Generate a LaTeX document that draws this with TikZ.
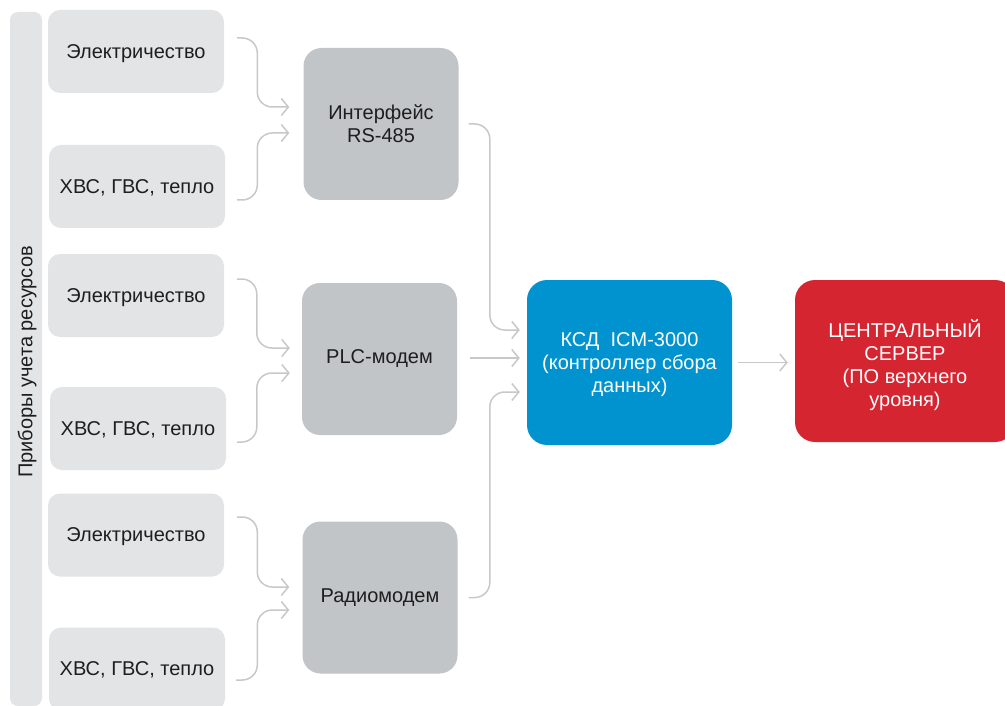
\documentclass[tikz,border=0pt]{standalone}
\usepackage{fontspec}
\setmainfont{Liberation Sans}
\usetikzlibrary{arrows.meta,calc}
\definecolor{lgray}{HTML}{E3E4E5}
\definecolor{mgray}{HTML}{C1C5C7}
\definecolor{kblue}{HTML}{0093D0}
\definecolor{kred}{HTML}{D42530}
\definecolor{cline}{HTML}{C8C8C8}
\definecolor{tdark}{HTML}{1E1E1E}
\tikzset{
  base/.style={rectangle, inner sep=0pt, align=center, font=\fontsize{20}{23}\selectfont},
  lbox/.style={base, fill=lgray, rounded corners=12pt, minimum width=176pt, minimum height=83pt, text=tdark, text depth=0pt},
  mbox/.style={base, fill=mgray, rounded corners=18pt, minimum width=155pt, minimum height=152pt, text=tdark},
  conn/.style={draw=cline, line width=1.5pt, rounded corners=15pt, -{Straight Barb[length=7pt,width=17pt,line width=1.5pt]}},
}
\begin{document}
\begin{tikzpicture}[x=1pt,y=-1pt]
\useasboundingbox (0,0) rectangle (1005,706);
\clip (0,0) rectangle (1005,706);
\fill[white] (0,0) rectangle (1005,706);
% left bar
\fill[lgray, rounded corners=8pt] (10,12) rectangle (42,706);
\node[base, rotate=90, text=tdark] (bar) at (27,362) {Приборы учета ресурсов};
% left boxes
\node[lbox] (L1) at (136,51.5) {Электричество};
\node[lbox] (L2) at (137,186.5) {ХВС, ГВС, тепло};
\node[lbox] (L3) at (136,295.5) {Электричество};
\node[lbox] (L4) at (138,428.5) {ХВС, ГВС, тепло};
\node[lbox] (L5) at (136,535) {Электричество};
\node[lbox] (L6) at (137,669) {ХВС, ГВС, тепло};
% middle boxes
\node[mbox] (M1) at (381,124) {Интерфейс\\RS-485};
\node[mbox] (M2) at (379.5,359) {PLC-модем};
\node[mbox] (M3) at (380,597.5) {Радиомодем};
% controller and server
\node[base, fill=kblue, rounded corners=20pt, minimum width=205pt, minimum height=165pt] (K) at (629.5,362.5) {};
\node[base, text=white] (Kt) at (629.5,365) {КСД\ \ ICM-3000\\(контроллер сбора\\данных)};
\node[base, fill=kred, rounded corners=20pt, minimum width=220pt, minimum height=162pt, text=white] (R) at (905,361) {};
\node[base, text=white] (Rt) at (905,365) {ЦЕНТРАЛЬНЫЙ\\СЕРВЕР\\(ПО верхнего\\уровня)};
% connectors group 1
\draw[conn] ([shift={(13,-13.5)}]L1.east) -| ([shift={(-46,-17)}]M1.west) -- ([shift={(-14,-17)}]M1.west);
\draw[conn] ([shift={(12,13.5)}]L2.east) -| ([shift={(-46,9)}]M1.west) -- ([shift={(-14,9)}]M1.west);
% group 2
\draw[conn] ([shift={(13,-16.5)}]L3.east) -| ([shift={(-45,-11)}]M2.west) -- ([shift={(-12,-11)}]M2.west);
\draw[conn] ([shift={(11,13.5)}]L4.east) -| ([shift={(-45,14)}]M2.west) -- ([shift={(-12,14)}]M2.west);
% group 3
\draw[conn] ([shift={(13,-18)}]L5.east) -| ([shift={(-45,-10.5)}]M3.west) -- ([shift={(-13,-10.5)}]M3.west);
\draw[conn] ([shift={(11,11)}]L6.east) -| ([shift={(-45,12.5)}]M3.west) -- ([shift={(-13,12.5)}]M3.west);
% to controller
\draw[conn] ([xshift=10]M1.east) -| ([shift={(-37,-32.5)}]K.west) -- ([shift={(-7,-32.5)}]K.west);
\draw[conn] ([shift={(13,-1)}]M2.east) -- ([shift={(-7,-4.5)}]K.west);
\draw[conn] ([xshift=11]M3.east) -| ([shift={(-37,29.5)}]K.west) -- ([shift={(-7,29.5)}]K.west);
% to server
\draw[conn] ([xshift=6]K.east) -- ([xshift=-7]K.east -| R.west);
\end{tikzpicture}
\end{document}
